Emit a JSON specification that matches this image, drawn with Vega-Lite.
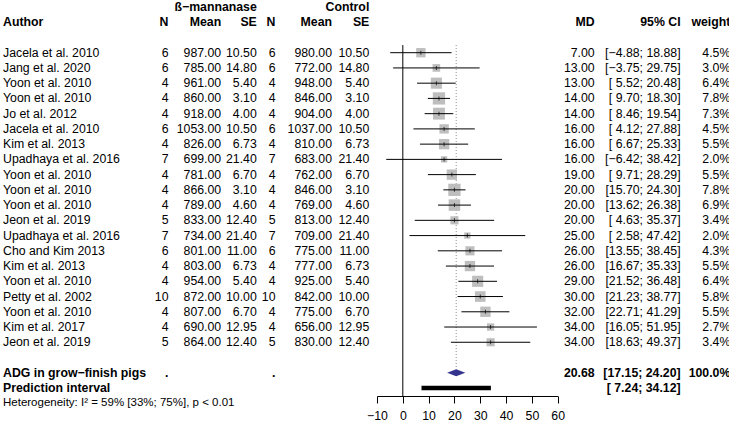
{
"$schema": "https://vega.github.io/schema/vega-lite/v6.json",
"background": "white",
"padding": 0,
"spacing": 0,
"bounds": "flush",
"config": {"view": {"stroke": null}, "text": {"font": "Liberation Sans", "fontSize": 12.3, "color": "black", "baseline": "middle"}},
"datasets": {
"rows": [
{"r":-2,"g":"h","se_e":"ß−mannanase","se_c":"Control"},
{"r":-1,"g":"h","author":"Author","n_e":"N","mean_e":"Mean","se_e":"SE","n_c":"N","mean_c":"Mean","se_c":"SE","md":"MD","ci":"95% CI","wt":"weight"},
{"r":1,"g":"s","author":"Jacela et al. 2010","n_e":"6","mean_e":"987.00","se_e":"10.50","n_c":"6","mean_c":"980.00","se_c":"10.50","md":"7.00","ci":"[−4.88; 18.88]","wt":"4.5%","est":7,"lo":-4.88,"hi":18.88,"w":4.5},
{"r":2,"g":"s","author":"Jang et al. 2020","n_e":"6","mean_e":"785.00","se_e":"14.80","n_c":"6","mean_c":"772.00","se_c":"14.80","md":"13.00","ci":"[−3.75; 29.75]","wt":"3.0%","est":13,"lo":-3.75,"hi":29.75,"w":3.0},
{"r":3,"g":"s","author":"Yoon et al. 2010","n_e":"4","mean_e":"961.00","se_e":"5.40","n_c":"4","mean_c":"948.00","se_c":"5.40","md":"13.00","ci":"[ 5.52; 20.48]","wt":"6.4%","est":13,"lo":5.52,"hi":20.48,"w":6.4},
{"r":4,"g":"s","author":"Yoon et al. 2010","n_e":"4","mean_e":"860.00","se_e":"3.10","n_c":"4","mean_c":"846.00","se_c":"3.10","md":"14.00","ci":"[ 9.70; 18.30]","wt":"7.8%","est":14,"lo":9.70,"hi":18.30,"w":7.8},
{"r":5,"g":"s","author":"Jo et al. 2012","n_e":"4","mean_e":"918.00","se_e":"4.00","n_c":"4","mean_c":"904.00","se_c":"4.00","md":"14.00","ci":"[ 8.46; 19.54]","wt":"7.3%","est":14,"lo":8.46,"hi":19.54,"w":7.3},
{"r":6,"g":"s","author":"Jacela et al. 2010","n_e":"6","mean_e":"1053.00","se_e":"10.50","n_c":"6","mean_c":"1037.00","se_c":"10.50","md":"16.00","ci":"[ 4.12; 27.88]","wt":"4.5%","est":16,"lo":4.12,"hi":27.88,"w":4.5},
{"r":7,"g":"s","author":"Kim et al. 2013","n_e":"4","mean_e":"826.00","se_e":"6.73","n_c":"4","mean_c":"810.00","se_c":"6.73","md":"16.00","ci":"[ 6.67; 25.33]","wt":"5.5%","est":16,"lo":6.67,"hi":25.33,"w":5.5},
{"r":8,"g":"s","author":"Upadhaya et al. 2016","n_e":"7","mean_e":"699.00","se_e":"21.40","n_c":"7","mean_c":"683.00","se_c":"21.40","md":"16.00","ci":"[−6.42; 38.42]","wt":"2.0%","est":16,"lo":-6.42,"hi":38.42,"w":2.0},
{"r":9,"g":"s","author":"Yoon et al. 2010","n_e":"4","mean_e":"781.00","se_e":"6.70","n_c":"4","mean_c":"762.00","se_c":"6.70","md":"19.00","ci":"[ 9.71; 28.29]","wt":"5.5%","est":19,"lo":9.71,"hi":28.29,"w":5.5},
{"r":10,"g":"s","author":"Yoon et al. 2010","n_e":"4","mean_e":"866.00","se_e":"3.10","n_c":"4","mean_c":"846.00","se_c":"3.10","md":"20.00","ci":"[15.70; 24.30]","wt":"7.8%","est":20,"lo":15.70,"hi":24.30,"w":7.8},
{"r":11,"g":"s","author":"Yoon et al. 2010","n_e":"4","mean_e":"789.00","se_e":"4.60","n_c":"4","mean_c":"769.00","se_c":"4.60","md":"20.00","ci":"[13.62; 26.38]","wt":"6.9%","est":20,"lo":13.62,"hi":26.38,"w":6.9},
{"r":12,"g":"s","author":"Jeon et al. 2019","n_e":"5","mean_e":"833.00","se_e":"12.40","n_c":"5","mean_c":"813.00","se_c":"12.40","md":"20.00","ci":"[ 4.63; 35.37]","wt":"3.4%","est":20,"lo":4.63,"hi":35.37,"w":3.4},
{"r":13,"g":"s","author":"Upadhaya et al. 2016","n_e":"7","mean_e":"734.00","se_e":"21.40","n_c":"7","mean_c":"709.00","se_c":"21.40","md":"25.00","ci":"[ 2.58; 47.42]","wt":"2.0%","est":25,"lo":2.58,"hi":47.42,"w":2.0},
{"r":14,"g":"s","author":"Cho and Kim 2013","n_e":"6","mean_e":"801.00","se_e":"11.00","n_c":"6","mean_c":"775.00","se_c":"11.00","md":"26.00","ci":"[13.55; 38.45]","wt":"4.3%","est":26,"lo":13.55,"hi":38.45,"w":4.3},
{"r":15,"g":"s","author":"Kim et al. 2013","n_e":"4","mean_e":"803.00","se_e":"6.73","n_c":"4","mean_c":"777.00","se_c":"6.73","md":"26.00","ci":"[16.67; 35.33]","wt":"5.5%","est":26,"lo":16.67,"hi":35.33,"w":5.5},
{"r":16,"g":"s","author":"Yoon et al. 2010","n_e":"4","mean_e":"954.00","se_e":"5.40","n_c":"4","mean_c":"925.00","se_c":"5.40","md":"29.00","ci":"[21.52; 36.48]","wt":"6.4%","est":29,"lo":21.52,"hi":36.48,"w":6.4},
{"r":17,"g":"s","author":"Petty et al. 2002","n_e":"10","mean_e":"872.00","se_e":"10.00","n_c":"10","mean_c":"842.00","se_c":"10.00","md":"30.00","ci":"[21.23; 38.77]","wt":"5.8%","est":30,"lo":21.23,"hi":38.77,"w":5.8},
{"r":18,"g":"s","author":"Yoon et al. 2010","n_e":"4","mean_e":"807.00","se_e":"6.70","n_c":"4","mean_c":"775.00","se_c":"6.70","md":"32.00","ci":"[22.71; 41.29]","wt":"5.5%","est":32,"lo":22.71,"hi":41.29,"w":5.5},
{"r":19,"g":"s","author":"Kim et al. 2017","n_e":"4","mean_e":"690.00","se_e":"12.95","n_c":"4","mean_c":"656.00","se_c":"12.95","md":"34.00","ci":"[16.05; 51.95]","wt":"2.7%","est":34,"lo":16.05,"hi":51.95,"w":2.7},
{"r":20,"g":"s","author":"Jeon et al. 2019","n_e":"5","mean_e":"864.00","se_e":"12.40","n_c":"5","mean_c":"830.00","se_c":"12.40","md":"34.00","ci":"[18.63; 49.37]","wt":"3.4%","est":34,"lo":18.63,"hi":49.37,"w":3.4},
{"r":22,"g":"b","author":"ADG in grow−finish pigs","n_e":".","n_c":".","md":"20.68","ci":"[17.15; 24.20]","wt":"100.0%","est":20.68,"lo":17.15,"hi":24.20},
{"r":23,"g":"b","author":"Prediction interval","ci":"[ 7.24; 34.12]","lo":7.24,"hi":34.12},
{"r":24,"g":"het","author":"Heterogeneity: I² = 59% [33%; 75%], p < 0.01"}
]
},
"hconcat": [
{"width":140,"height":395,"data":{"name":"rows"},"layer":[
 {"transform":[{"filter":"datum.g=='s'"}],"mark":{"type":"text","align":"left","dx":3,"fontSize":12.3,"font":"Liberation Sans"},"encoding":{"x":{"value":0},"y":{"field":"r","type":"quantitative","scale":{"domain":[-2.392,23.526],"reverse":true,"nice":false,"zero":false},"axis":null},"text":{"field":"author"}}},
 {"transform":[{"filter":"(datum.g=='h'||datum.g=='b') && isValid(datum.author)"}],"mark":{"type":"text","align":"left","dx":3,"fontWeight":"bold","fontSize":12.3,"font":"Liberation Sans"},"encoding":{"x":{"value":0},"y":{"field":"r","type":"quantitative","scale":{"domain":[-2.392,23.526],"reverse":true,"nice":false,"zero":false},"axis":null},"text":{"field":"author"}}},
 {"transform":[{"filter":"datum.g=='het'"}],"mark":{"type":"text","align":"left","dx":3,"fontSize":11.5,"font":"Liberation Sans"},"encoding":{"x":{"value":0},"y":{"field":"r","type":"quantitative","scale":{"domain":[-2.392,23.526],"reverse":true,"nice":false,"zero":false},"axis":null},"text":{"field":"author"}}}
]},
{"width":28.5,"height":395,"data":{"name":"rows"},"transform":[{"filter":"isValid(datum.n_e)"}],"layer":[
 {"transform":[{"filter":"datum.g=='s'"}],"mark":{"type":"text","align":"right","fontSize":12.3,"font":"Liberation Sans"},"encoding":{"x":{"value":"width"},"y":{"field":"r","type":"quantitative","scale":{"domain":[-2.392,23.526],"reverse":true,"nice":false,"zero":false},"axis":null},"text":{"field":"n_e"}}},
 {"transform":[{"filter":"datum.g!='s'"}],"mark":{"type":"text","align":"right","fontWeight":"bold","fontSize":12.3,"font":"Liberation Sans"},"encoding":{"x":{"value":"width"},"y":{"field":"r","type":"quantitative","scale":{"domain":[-2.392,23.526],"reverse":true,"nice":false,"zero":false},"axis":null},"text":{"field":"n_e"}}}
]},
{"width":52.2,"height":395,"data":{"name":"rows"},"transform":[{"filter":"isValid(datum.mean_e)"}],"layer":[
 {"transform":[{"filter":"datum.g=='s'"}],"mark":{"type":"text","align":"right","fontSize":12.3,"font":"Liberation Sans"},"encoding":{"x":{"value":"width"},"y":{"field":"r","type":"quantitative","scale":{"domain":[-2.392,23.526],"reverse":true,"nice":false,"zero":false},"axis":null},"text":{"field":"mean_e"}}},
 {"transform":[{"filter":"datum.g!='s'"}],"mark":{"type":"text","align":"right","fontWeight":"bold","fontSize":12.3,"font":"Liberation Sans"},"encoding":{"x":{"value":"width"},"y":{"field":"r","type":"quantitative","scale":{"domain":[-2.392,23.526],"reverse":true,"nice":false,"zero":false},"axis":null},"text":{"field":"mean_e"}}}
]},
{"width":34.8,"height":395,"data":{"name":"rows"},"transform":[{"filter":"isValid(datum.se_e)"}],"layer":[
 {"transform":[{"filter":"datum.g=='s'"}],"mark":{"type":"text","align":"right","fontSize":12.3,"font":"Liberation Sans"},"encoding":{"x":{"value":"width"},"y":{"field":"r","type":"quantitative","scale":{"domain":[-2.392,23.526],"reverse":true,"nice":false,"zero":false},"axis":null},"text":{"field":"se_e"}}},
 {"transform":[{"filter":"datum.g!='s'"}],"mark":{"type":"text","align":"right","fontWeight":"bold","fontSize":12.3,"font":"Liberation Sans"},"encoding":{"x":{"value":"width"},"y":{"field":"r","type":"quantitative","scale":{"domain":[-2.392,23.526],"reverse":true,"nice":false,"zero":false},"axis":null},"text":{"field":"se_e"}}}
]},
{"width":18.5,"height":395,"data":{"name":"rows"},"transform":[{"filter":"isValid(datum.n_c)"}],"layer":[
 {"transform":[{"filter":"datum.g=='s'"}],"mark":{"type":"text","align":"right","fontSize":12.3,"font":"Liberation Sans"},"encoding":{"x":{"value":"width"},"y":{"field":"r","type":"quantitative","scale":{"domain":[-2.392,23.526],"reverse":true,"nice":false,"zero":false},"axis":null},"text":{"field":"n_c"}}},
 {"transform":[{"filter":"datum.g!='s'"}],"mark":{"type":"text","align":"right","fontWeight":"bold","fontSize":12.3,"font":"Liberation Sans"},"encoding":{"x":{"value":"width"},"y":{"field":"r","type":"quantitative","scale":{"domain":[-2.392,23.526],"reverse":true,"nice":false,"zero":false},"axis":null},"text":{"field":"n_c"}}}
]},
{"width":56,"height":395,"data":{"name":"rows"},"transform":[{"filter":"isValid(datum.mean_c)"}],"layer":[
 {"transform":[{"filter":"datum.g=='s'"}],"mark":{"type":"text","align":"right","fontSize":12.3,"font":"Liberation Sans"},"encoding":{"x":{"value":"width"},"y":{"field":"r","type":"quantitative","scale":{"domain":[-2.392,23.526],"reverse":true,"nice":false,"zero":false},"axis":null},"text":{"field":"mean_c"}}},
 {"transform":[{"filter":"datum.g!='s'"}],"mark":{"type":"text","align":"right","fontWeight":"bold","fontSize":12.3,"font":"Liberation Sans"},"encoding":{"x":{"value":"width"},"y":{"field":"r","type":"quantitative","scale":{"domain":[-2.392,23.526],"reverse":true,"nice":false,"zero":false},"axis":null},"text":{"field":"mean_c"}}}
]},
{"width":44.3,"height":395,"data":{"name":"rows"},"transform":[{"filter":"isValid(datum.se_c)"}],"layer":[
 {"transform":[{"filter":"datum.g=='s'"}],"mark":{"type":"text","align":"right","dx":-7,"fontSize":12.3,"font":"Liberation Sans"},"encoding":{"x":{"value":"width"},"y":{"field":"r","type":"quantitative","scale":{"domain":[-2.392,23.526],"reverse":true,"nice":false,"zero":false},"axis":null},"text":{"field":"se_c"}}},
 {"transform":[{"filter":"datum.g!='s'"}],"mark":{"type":"text","align":"right","dx":-7,"fontWeight":"bold","fontSize":12.3,"font":"Liberation Sans"},"encoding":{"x":{"value":"width"},"y":{"field":"r","type":"quantitative","scale":{"domain":[-2.392,23.526],"reverse":true,"nice":false,"zero":false},"axis":null},"text":{"field":"se_c"}}}
]},
{"width":180.7,"height":395,"data":{"name":"rows"},"layer":[
 {"data":{"values":[{"ref":0}]},"mark":{"type":"rule","color":"black","strokeWidth":1},"encoding":{"x":{"field":"ref","type":"quantitative","scale":{"domain":[-10,60],"nice":false,"zero":false},"axis":{"values":[-10,0,10,20,30,40,50,60],"tickSize":7,"labelPadding":6,"domainColor":"black","tickColor":"black","labelColor":"black","labelFontSize":12.3,"labelFont":"Liberation Sans","grid":false,"title":null,"labelFlush":false,"labelOverlap":false,"labelBound":false,"domainWidth":1,"tickWidth":1}},"y":{"datum":0.5,"type":"quantitative","scale":{"domain":[-2.392,23.526],"reverse":true,"nice":false,"zero":false},"axis":null},"y2":{"datum":23.526}}},
 {"transform":[{"filter":"datum.r==22"}],"mark":{"type":"rule","color":"#8c8c8c","strokeWidth":1,"strokeDash":[1,2]},"encoding":{"x":{"field":"est","type":"quantitative","axis":{"values":[-10,0,10,20,30,40,50,60],"tickSize":7,"labelPadding":6,"domainColor":"black","tickColor":"black","labelColor":"black","labelFontSize":12.3,"labelFont":"Liberation Sans","grid":false,"title":null,"labelFlush":false,"labelOverlap":false,"labelBound":false,"domainWidth":1,"tickWidth":1}},"y":{"datum":0.5,"type":"quantitative","axis":null},"y2":{"datum":21.79}}},
 {"transform":[{"filter":"datum.g=='s'"}],"mark":{"type":"square","color":"#bebebe","opacity":1,"filled":true},"encoding":{"x":{"field":"est","type":"quantitative","axis":{"values":[-10,0,10,20,30,40,50,60],"tickSize":7,"labelPadding":6,"domainColor":"black","tickColor":"black","labelColor":"black","labelFontSize":12.3,"labelFont":"Liberation Sans","grid":false,"title":null,"labelFlush":false,"labelOverlap":false,"labelBound":false,"domainWidth":1,"tickWidth":1}},"y":{"field":"r","type":"quantitative","axis":null},"size":{"field":"w","type":"quantitative","scale":{"type":"linear","domain":[0,7.8],"range":[0,151]},"legend":null}}},
 {"transform":[{"filter":"datum.g=='s'"}],"mark":{"type":"rule","color":"black","strokeWidth":1},"encoding":{"x":{"field":"lo","type":"quantitative","axis":{"values":[-10,0,10,20,30,40,50,60],"tickSize":7,"labelPadding":6,"domainColor":"black","tickColor":"black","labelColor":"black","labelFontSize":12.3,"labelFont":"Liberation Sans","grid":false,"title":null,"labelFlush":false,"labelOverlap":false,"labelBound":false,"domainWidth":1,"tickWidth":1}},"x2":{"field":"hi"},"y":{"field":"r","type":"quantitative","axis":null}}},
 {"transform":[{"filter":"datum.g=='s'"}],"mark":{"type":"tick","color":"black","orient":"vertical","size":4,"thickness":1},"encoding":{"x":{"field":"est","type":"quantitative","axis":{"values":[-10,0,10,20,30,40,50,60],"tickSize":7,"labelPadding":6,"domainColor":"black","tickColor":"black","labelColor":"black","labelFontSize":12.3,"labelFont":"Liberation Sans","grid":false,"title":null,"labelFlush":false,"labelOverlap":false,"labelBound":false,"domainWidth":1,"tickWidth":1}},"y":{"field":"r","type":"quantitative","axis":null}}},
 {"transform":[{"filter":"datum.r==22"}],"mark":{"type":"point","shape":"M-1,0L0,-0.385L1,0L0,0.385Z","filled":true,"color":"#34348f","opacity":1,"size":331,"strokeWidth":0},"encoding":{"x":{"field":"est","type":"quantitative","axis":{"values":[-10,0,10,20,30,40,50,60],"tickSize":7,"labelPadding":6,"domainColor":"black","tickColor":"black","labelColor":"black","labelFontSize":12.3,"labelFont":"Liberation Sans","grid":false,"title":null,"labelFlush":false,"labelOverlap":false,"labelBound":false,"domainWidth":1,"tickWidth":1}},"y":{"field":"r","type":"quantitative","axis":null}}},
 {"transform":[{"filter":"datum.r==23"}],"mark":{"type":"rule","color":"black","strokeWidth":4.3},"encoding":{"x":{"field":"lo","type":"quantitative","axis":{"values":[-10,0,10,20,30,40,50,60],"tickSize":7,"labelPadding":6,"domainColor":"black","tickColor":"black","labelColor":"black","labelFontSize":12.3,"labelFont":"Liberation Sans","grid":false,"title":null,"labelFlush":false,"labelOverlap":false,"labelBound":false,"domainWidth":1,"tickWidth":1}},"x2":{"field":"hi"},"y":{"field":"r","type":"quantitative","axis":null}}}
]},
{"width":36.7,"height":395,"data":{"name":"rows"},"transform":[{"filter":"isValid(datum.md)"}],"layer":[
 {"transform":[{"filter":"datum.g=='s'"}],"mark":{"type":"text","align":"right","fontSize":12.3,"font":"Liberation Sans"},"encoding":{"x":{"value":"width"},"y":{"field":"r","type":"quantitative","scale":{"domain":[-2.392,23.526],"reverse":true,"nice":false,"zero":false},"axis":null},"text":{"field":"md"}}},
 {"transform":[{"filter":"datum.g!='s'"}],"mark":{"type":"text","align":"right","fontWeight":"bold","fontSize":12.3,"font":"Liberation Sans"},"encoding":{"x":{"value":"width"},"y":{"field":"r","type":"quantitative","scale":{"domain":[-2.392,23.526],"reverse":true,"nice":false,"zero":false},"axis":null},"text":{"field":"md"}}}
]},
{"width":85.6,"height":395,"data":{"name":"rows"},"transform":[{"filter":"isValid(datum.ci)"}],"layer":[
 {"transform":[{"filter":"datum.g=='s'"}],"mark":{"type":"text","align":"right","fontSize":12.3,"font":"Liberation Sans"},"encoding":{"x":{"value":"width"},"y":{"field":"r","type":"quantitative","scale":{"domain":[-2.392,23.526],"reverse":true,"nice":false,"zero":false},"axis":null},"text":{"field":"ci"}}},
 {"transform":[{"filter":"datum.g!='s'"}],"mark":{"type":"text","align":"right","fontWeight":"bold","fontSize":12.3,"font":"Liberation Sans"},"encoding":{"x":{"value":"width"},"y":{"field":"r","type":"quantitative","scale":{"domain":[-2.392,23.526],"reverse":true,"nice":false,"zero":false},"axis":null},"text":{"field":"ci"}}}
]},
{"width":49.4,"height":395,"data":{"name":"rows"},"transform":[{"filter":"isValid(datum.wt)"}],"layer":[
 {"transform":[{"filter":"datum.g=='s'"}],"mark":{"type":"text","align":"right","fontSize":12.3,"font":"Liberation Sans"},"encoding":{"x":{"value":"width"},"y":{"field":"r","type":"quantitative","scale":{"domain":[-2.392,23.526],"reverse":true,"nice":false,"zero":false},"axis":null},"text":{"field":"wt"}}},
 {"transform":[{"filter":"datum.g!='s'"}],"mark":{"type":"text","align":"right","fontWeight":"bold","fontSize":12.3,"font":"Liberation Sans"},"encoding":{"x":{"value":"width"},"y":{"field":"r","type":"quantitative","scale":{"domain":[-2.392,23.526],"reverse":true,"nice":false,"zero":false},"axis":null},"text":{"field":"wt"}}}
]}
]
}
